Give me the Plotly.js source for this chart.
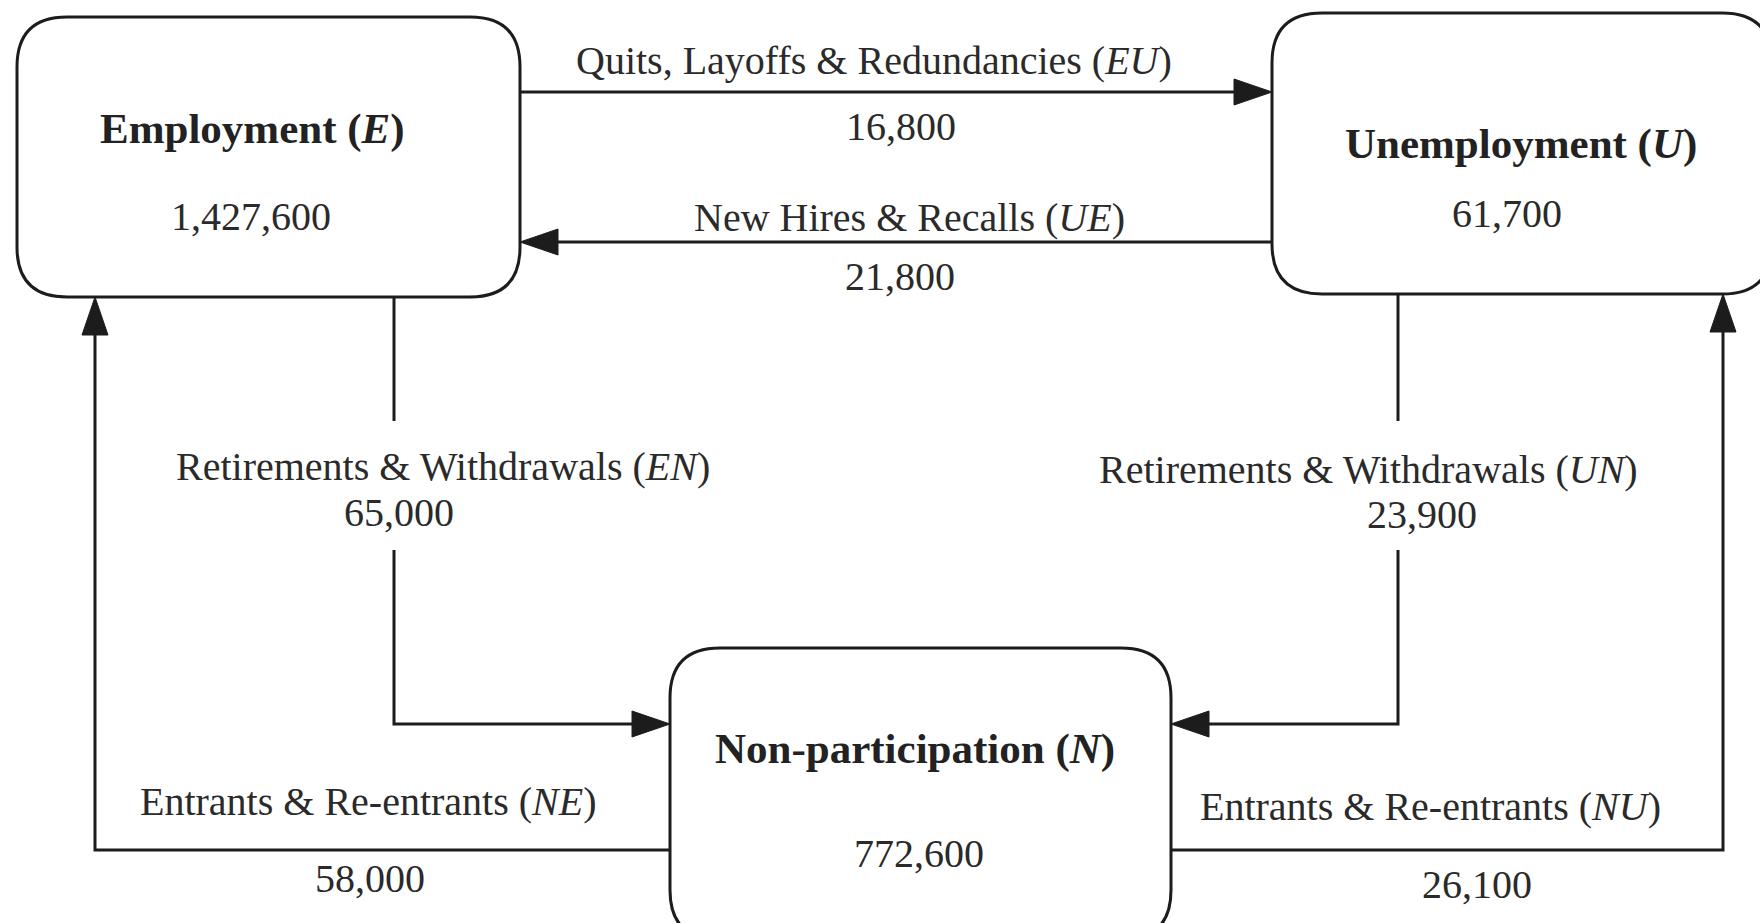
<!DOCTYPE html>
<html>
<head>
<meta charset="utf-8">
<script src="https://cdn.plot.ly/plotly-3.0.1.min.js"></script>
<style>html,body{margin:0;padding:0;background:#fff;}#chart{width:1760px;height:923px;}</style>
</head>
<body>
<div id="chart"></div>
<script>
// ---- data ----
const nodeNames = ['Employment', 'Unemployment', 'Non-participation'];
const nodeCodes = ['E', 'U', 'N'];
const nodeStocks = [1427600, 61700, 772600];

const flowCodes = ['EU', 'UE', 'EN', 'UN', 'NE', 'NU'];
const flowLabels = ['Quits, Layoffs & Redundancies', 'New Hires & Recalls',
  'Retirements & Withdrawals', 'Retirements & Withdrawals',
  'Entrants & Re-entrants', 'Entrants & Re-entrants'];
const flowValues = [16800, 21800, 65000, 23900, 58000, 26100];

// ---- layout geometry (pixels, y downward) ----
const W = 1760, H = 923;
const boxes = {
  E: {x0: 17, y0: 17, x1: 520, y1: 297, r: 50, title: [252, 129], value: [251, 216]},
  U: {x0: 1272, y0: 13, x1: 1772, y1: 294, r: 50, title: [1521, 144], value: [1507, 213]},
  N: {x0: 670, y0: 648, x1: 1171, y1: 940, r: 50, title: [915, 749], value: [919, 853]}
};
const flowGeom = {
  EU: {segs: [[[520, 92], [1272, 92]]], label: [874, 60], value: [901, 126]},
  UE: {segs: [[[1272, 242], [520, 242]]], label: [909, 217], value: [900, 276]},
  EN: {segs: [[[394, 297], [394, 421]], [[394, 550], [394, 724], [670, 724]]], label: [443, 466], value: [399, 512]},
  UN: {segs: [[[1398, 294], [1398, 421]], [[1398, 550], [1398, 724], [1171, 724]]], label: [1368, 469], value: [1422, 514]},
  NE: {segs: [[[670, 850], [95, 850], [95, 297]]], label: [368, 801], value: [370, 878]},
  NU: {segs: [[[1171, 850], [1723, 850], [1723, 294]]], label: [1430, 806], value: [1477, 884]}
};

const lineColor = '#1c1c1c';
const textColor = '#2a2a2a';
const fontFamily = '"Liberation Serif", "Times New Roman", Times, serif';
const fmt = v => v.toLocaleString('en-US');

function roundRect(b) {
  const {x0, y0, x1, y1, r} = b;
  return `M${x0 + r},${y0} L${x1 - r},${y0} Q${x1},${y0} ${x1},${y0 + r} L${x1},${y1 - r} Q${x1},${y1} ${x1 - r},${y1} ` +
    `L${x0 + r},${y1} Q${x0},${y1} ${x0},${y1 - r} L${x0},${y0 + r} Q${x0},${y0} ${x0 + r},${y0} Z`;
}

const shapes = [];
const annotations = [];

nodeCodes.forEach((c, i) => {
  const b = boxes[c];
  shapes.push({type: 'path', xref: 'x', yref: 'y', path: roundRect(b),
    line: {color: lineColor, width: 3}, fillcolor: 'rgba(255,255,255,0)'});
  annotations.push({x: b.title[0], y: b.title[1], xref: 'x', yref: 'y', showarrow: false,
    text: `<b>${nodeNames[i]} (<i>${c}</i>)</b>`, font: {family: fontFamily, size: 43, color: '#222'},
    xanchor: 'center', yanchor: 'middle'});
  annotations.push({x: b.value[0], y: b.value[1], xref: 'x', yref: 'y', showarrow: false,
    text: fmt(nodeStocks[i]), font: {family: fontFamily, size: 40, color: textColor},
    xanchor: 'center', yanchor: 'middle'});
});

const AL = 38, AW = 13;
flowCodes.forEach((c, i) => {
  const g = flowGeom[c];
  g.segs.forEach((pts, si) => {
    const last = si === g.segs.length - 1;
    const p = pts.map(q => q.slice());
    let head = null;
    if (last) {
      const tip = p[p.length - 1], prev = p[p.length - 2];
      const dx = tip[0] - prev[0], dy = tip[1] - prev[1];
      const len = Math.hypot(dx, dy), ux = dx / len, uy = dy / len;
      const bx = tip[0] - ux * AL, by = tip[1] - uy * AL;
      head = `M${tip[0]},${tip[1]} L${bx - uy * AW},${by + ux * AW} L${bx + uy * AW},${by - ux * AW} Z`;
      p[p.length - 1] = [bx + ux * 4, by + uy * 4];
    }
    shapes.push({type: 'path', xref: 'x', yref: 'y',
      path: p.map((q, k) => (k ? 'L' : 'M') + q[0] + ',' + q[1]).join(' '),
      line: {color: lineColor, width: 3}});
    if (head) shapes.push({type: 'path', xref: 'x', yref: 'y', path: head,
      line: {color: lineColor, width: 1}, fillcolor: lineColor});
  });
  annotations.push({x: g.label[0], y: g.label[1], xref: 'x', yref: 'y', showarrow: false,
    text: `${flowLabels[i].replace(/&/g, '&amp;')} (<i>${c}</i>)`,
    font: {family: fontFamily, size: 40, color: textColor}, xanchor: 'center', yanchor: 'middle'});
  annotations.push({x: g.value[0], y: g.value[1], xref: 'x', yref: 'y', showarrow: false,
    text: fmt(flowValues[i]), font: {family: fontFamily, size: 40, color: textColor},
    xanchor: 'center', yanchor: 'middle'});
});

const trace = {
  type: 'scatter', mode: 'markers',
  x: nodeCodes.map(c => (boxes[c].x0 + boxes[c].x1) / 2),
  y: nodeCodes.map(c => (boxes[c].y0 + boxes[c].y1) / 2),
  marker: {size: 1, opacity: 0}, hoverinfo: 'text',
  text: nodeNames.map((n, i) => n + ': ' + fmt(nodeStocks[i])), showlegend: false
};

const layout = {
  width: W, height: H,
  margin: {l: 0, r: 0, t: 0, b: 0, pad: 0},
  paper_bgcolor: '#ffffff', plot_bgcolor: '#ffffff',
  xaxis: {range: [0, W], visible: false, fixedrange: true},
  yaxis: {range: [H, 0], visible: false, fixedrange: true},
  shapes: shapes, annotations: annotations, showlegend: false
};

Plotly.newPlot('chart', [trace], layout, {displayModeBar: false, staticPlot: true});
</script>
</body>
</html>
